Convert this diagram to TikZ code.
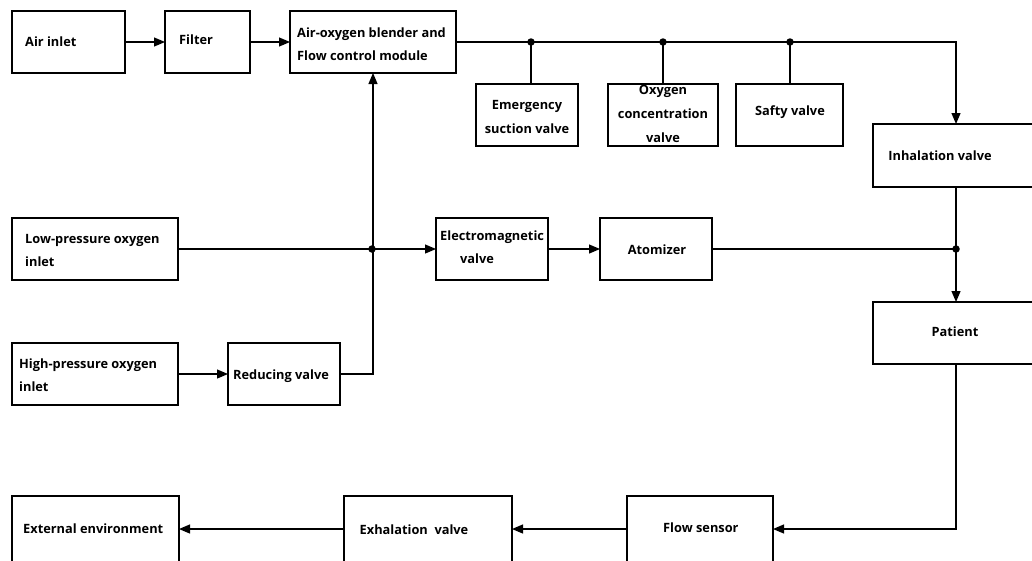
\documentclass[tikz,border=0pt]{standalone}
\usepackage{fontspec}
\setmainfont{Open Sans}
\usetikzlibrary{arrows.meta,calc}
\begin{document}
\begin{tikzpicture}[x=1pt,y=-1pt,
  box/.style={draw, line width=1.2pt, anchor=north west, inner sep=0pt, outer sep=0pt},
  lbl/.style={font=\bfseries\fontsize{12.8}{23}\selectfont, inner sep=0pt, align=left},
  clbl/.style={font=\bfseries\fontsize{12.8}{24}\selectfont, inner sep=0pt, align=center},
  arr/.style={line width=1.2pt, -{Triangle[length=11pt,width=9pt]}},
  ln/.style={line width=1.2pt},
  dot/.style={circle, fill, inner sep=0pt, minimum size=7.5pt}]
\useasboundingbox (0,0) rectangle (1032,560);
% boxes
\node[box, minimum width=113pt, minimum height=62pt] (air) at (12,11) {};
\node[box, minimum width=85pt, minimum height=62pt] (filter) at (165,11) {};
\node[box, minimum width=166pt, minimum height=62pt] (blend) at (290,11) {};
\node[box, minimum width=102pt, minimum height=62pt] (emer) at (476,84) {};
\node[box, minimum width=110pt, minimum height=62pt] (oxc) at (608,84) {};
\node[box, minimum width=107pt, minimum height=62pt] (safe) at (736,84) {};
\node[box, minimum width=166pt, minimum height=63pt] (inh) at (873,124) {};
\node[box, minimum width=166pt, minimum height=62pt] (pat) at (873,302) {};
\node[box, minimum width=166pt, minimum height=62pt] (lowp) at (12,218) {};
\node[box, minimum width=166pt, minimum height=62pt] (highp) at (12,343) {};
\node[box, minimum width=112pt, minimum height=62pt] (red) at (228,343) {};
\node[box, minimum width=112pt, minimum height=62pt] (em) at (436,218) {};
\node[box, minimum width=112pt, minimum height=62pt] (atom) at (600,218) {};
\node[box, minimum width=146pt, minimum height=66pt] (flow) at (627,496) {};
\node[box, minimum width=168pt, minimum height=66pt] (exh) at (344,496) {};
\node[box, minimum width=167pt, minimum height=66pt] (ext) at (12,496) {};
% labels
\node[lbl, anchor=west] (airT) at (25,42) {Air inlet};
\node[lbl, anchor=west] (filterT) at (179,40) {Filter};
\node[lbl, anchor=west] (blendT) at (297,44) {Air-oxygen blender and\\Flow control module};
\node[clbl] (emerT) at (527,117) {Emergency\\suction valve};
\node[clbl] (oxcT) at (663,114) {Oxygen\\concentration\\valve};
\node[clbl] (safeT) at (790,112) {Safty valve};
\node[clbl] (inhT) at (940,156) {Inhalation valve};
\node[clbl] (patT) at (955,332) {Patient};
\node[lbl, anchor=west] (lowpT) at (25,250) {Low-pressure oxygen\\inlet};
\node[lbl, anchor=west] (highpT) at (19,375) {High-pressure oxygen\\inlet};
\node[lbl, anchor=west] (redT) at (233,376) {Reducing valve};
\node[lbl, anchor=west] (emT) at (440,247) {Electromagnetic\\\hspace*{20pt}valve};
\node[clbl] (atomT) at (657,250) {Atomizer};
\node[lbl, anchor=west] (extT) at (23,529) {External environment};
\node[clbl] (exhT) at (414,530) {Exhalation\ \ valve};
\node[lbl, anchor=west] (flowT) at (663,528) {Flow sensor};
% junctions
\coordinate (d1) at (531,42);
\coordinate (d2) at (663,42);
\coordinate (d3) at (790,42);
\coordinate (j1) at (372,249);
\coordinate (j2) at (956,249);
% connectors
\draw[arr] (air) -- (filter);
\draw[arr] (filter) -- (blend);
\draw[arr] (blend.east) -| (inh.north);
\draw[ln] (d1) -- (d1 |- emer.north);
\draw[ln] (d2) -- (d2 |- oxc.north);
\draw[ln] (d3) -- (d3 |- safe.north);
\draw[arr] (red.east) -| (blend.south);
\draw[ln] (lowp.east) -- (j1);
\draw[arr] (j1) -- (em.west);
\draw[arr] (highp) -- (red);
\draw[arr] (em) -- (atom);
\draw[ln] (atom.east) -- (j2);
\draw[ln] (inh.south) -- (j2);
\draw[arr] (j2) -- (pat.north);
\draw[arr] (pat.south) |- (flow.east);
\draw[arr] (flow) -- (exh);
\draw[arr] (exh) -- (ext);
\foreach \p in {d1,d2,d3,j1,j2} \node[dot] (dot\p) at (\p) {};
\end{tikzpicture}
\end{document}
